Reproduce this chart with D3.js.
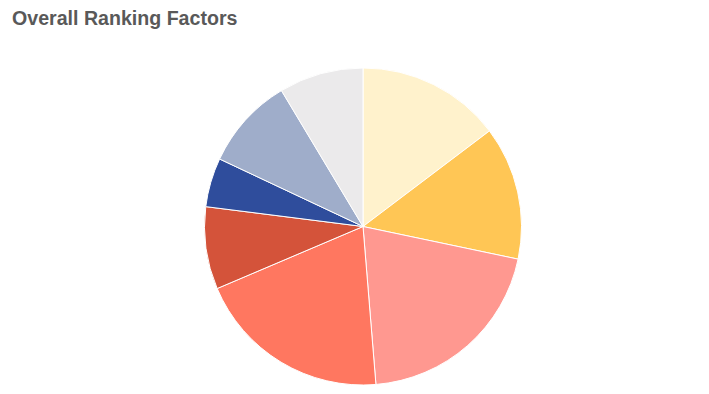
<!DOCTYPE html>
<html>
<head>
<meta charset="utf-8">
<script src="https://cdn.jsdelivr.net/npm/d3@7"></script>
<style>
  body { margin: 0; background: #fff; }
  svg { display: block; }
</style>
</head>
<body>
<svg id="chart" width="709" height="394"></svg>
<script>
// slices, clockwise from 12 o'clock
var categories = ['Factor 1', 'Factor 2', 'Factor 3', 'Factor 4', 'Factor 5', 'Factor 6', 'Factor 7', 'Factor 8'];
var values = [14.7, 13.6, 20.4, 19.9, 8.4, 5.0, 9.4, 8.6];
var colors = ['#FFF2CC', '#FFC655', '#FF9890', '#FF7760', '#D4533A', '#2F4D9C', '#9FADCA', '#EBEAEB'];

var svg = d3.select('#chart'),
    width = +svg.attr('width'),
    height = +svg.attr('height');

svg.append('text')
  .attr('x', 12)
  .attr('y', 25)
  .attr('font-family', 'Liberation Sans, Arial, sans-serif')
  .attr('font-size', 19.6)
  .attr('font-weight', 'bold')
  .attr('fill', '#595959')
  .text('Overall Ranking Factors');

var color = d3.scaleOrdinal().domain(categories).range(colors);

var pie = d3.pie()
  .sort(null)
  .value(function(d, i) { return values[i]; });

var arc = d3.arc()
  .innerRadius(0)
  .outerRadius(158.5);

var g = svg.append('g')
  .attr('transform', 'translate(363,226.5)');

g.selectAll('path')
  .data(pie(categories))
  .enter().append('path')
  .attr('d', arc)
  .attr('fill', function(d) { return color(d.data); })
  .attr('stroke', '#fff')
  .attr('stroke-width', 1);
</script>
</body>
</html>
